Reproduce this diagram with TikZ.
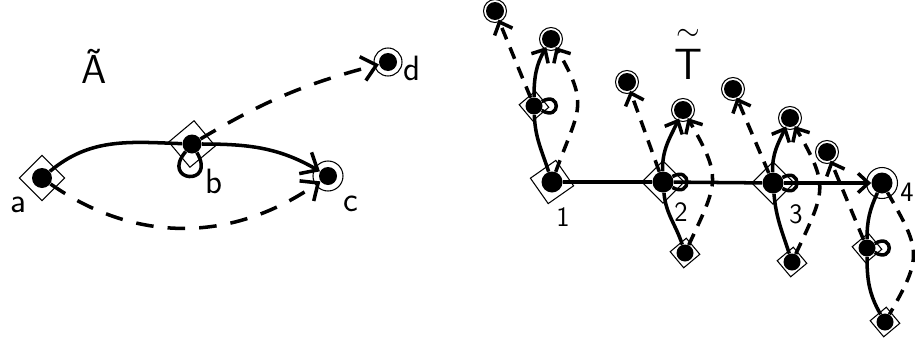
\documentclass[tikz,border=0pt]{standalone}
\usepackage{amsmath}
\usetikzlibrary{arrows.meta}

\begin{document}
\begin{tikzpicture}[
  vert/.style={circle, fill=black, inner sep=0pt, minimum size=#1},
  vert/.default=0.36cm,
  init/.style={draw, line width=0.6pt, rectangle, inner sep=0pt, minimum size=#1, rotate=40},
  init/.default=0.4cm,
  fin/.style={draw, line width=0.6pt, circle, inner sep=0pt, minimum size=#1},
  fin/.default=0.46cm,
  tr/.style={line width=2pt},
  pend/.style={tr, dash pattern=on 7pt off 5pt},
  arr/.style={-{Straight Barb[length=6pt,width=11pt]}},
  lbl/.style={font=\sffamily\fontsize{20}{20}\selectfont, inner sep=0pt},
  num/.style={font=\sffamily\fontsize{16}{16}\selectfont, inner sep=0pt},
  ttl/.style={font=\sffamily\fontsize{23}{23}\selectfont, inner sep=0pt},
]
  \useasboundingbox (0,0) rectangle (18.3,-6.78);

  % automaton A~
  \node[ttl] (atil) at (1.88,-1.32) {Ã};
  \node[vert=0.4cm] (a) at (0.84,-3.56) {};
  \node[vert=0.38cm] (b) at (3.84,-2.88) {};
  \node[vert] (c) at (6.56,-3.52) {};
  \node[vert] (d) at (7.76,-1.24) {};
  \node[init=0.64cm, rotate=5] at (a) {};
  \node[init=0.66cm] at (b) {};
  \node[fin=0.6cm] at (c) {};
  \node[fin=0.56cm] at (d) {};
  \node[lbl] (la) at (0.36,-4.1) {a};
  \node[lbl] (lb) at (4.28,-3.62) {b};
  \node[lbl] (lc) at (7.02,-4.08) {c};
  \node[lbl] (ld) at (8.24,-1.36) {d};

  \begin{scope}[pend/.append style={dash pattern=on 10pt off 8pt},
                arr/.append style={-{Straight Barb[length=8pt,width=14pt]}}]
    \draw[tr] (a) to[out=40,in=178] (b);
    \draw[tr, arr] (b) to[out=0,in=150] (c);
    \draw[tr] (b.230) .. controls +(230:0.8) and +(300:0.8) .. (b.300);
    \draw[pend, arr] (a) to[out=-35,in=-145] (c);
    \draw[pend, arr] (b) to[bend left=8] (d);
  \end{scope}

  % tree T~
  \node[ttl] (ttil) at (13.76,-1.04) {$\overset{\sim}{\mathsf{T}}$};
  % spine
  \node[vert=0.42cm] (t1) at (11.04,-3.64) {};
  \node[vert=0.42cm] (t2) at (13.26,-3.64) {};
  \node[vert=0.42cm] (t3) at (15.46,-3.66) {};
  \node[vert=0.42cm] (t4) at (17.64,-3.66) {};
  \node[init=0.62cm, rotate=-5] at (t1) {};
  \node[init=0.6cm, rotate=5] at (t2) {};
  \node[init=0.6cm, rotate=5] at (t3) {};
  \node[fin=0.62cm] at (t4) {};
  \node[num] (l1) at (11.26,-4.34) {1};
  \node[num] (l2) at (13.62,-4.24) {2};
  \node[num] (l3) at (15.92,-4.28) {3};
  \node[num, anchor=west] (l4) at (18.0,-3.84) {4};
  % branches
  \node[vert=0.34cm] (m1) at (10.68,-2.12) {};
  \node[vert] (c1) at (11.02,-0.78) {};
  \node[vert] (d1) at (9.9,-0.22) {};
  \node[vert=0.34cm] (b2) at (13.7,-5.06) {};
  \node[vert] (c2) at (13.66,-2.2) {};
  \node[vert] (d2) at (12.54,-1.64) {};
  \node[vert=0.34cm] (b3) at (15.84,-5.24) {};
  \node[vert] (c3) at (15.8,-2.36) {};
  \node[vert] (d3) at (14.66,-1.78) {};
  \node[vert=0.34cm] (m4) at (17.34,-4.96) {};
  \node[vert=0.34cm] (b4) at (17.7,-6.44) {};
  \node[vert] (d4) at (16.54,-3.04) {};
  \foreach \n in {m1,b2,b3,m4,b4} \node[init=0.42cm] at (\n) {};
  \foreach \n in {c1,d1,c2,d2,c3,d3,d4} \node[fin] at (\n) {};

  \draw[tr] (t1) -- (t2) -- (t3);
  \draw[tr, arr] (t3) -- (t4);

  \draw[tr] (t1) to[out=108,in=-88] (m1);
  \draw[tr, arr] (m1) to[out=90,in=-120] (c1);
  \draw[pend, arr] (m1) -- (d1);
  \draw[pend, arr] (t1) to[out=70,in=-60,looseness=1.4] (c1);
  \draw[tr] (m1.30) .. controls +(30:0.45) and +(-30:0.45) .. (m1.-30);

  \draw[tr] (b2) to[out=108,in=-85] (t2);
  \draw[tr, arr] (t2) to[out=92,in=-115] (c2);
  \draw[pend, arr] (t2) -- (d2);
  \draw[pend, arr] (b2) to[out=65,in=-60,looseness=1.4] (c2);
  \draw[tr] (t2.30) .. controls +(30:0.45) and +(-30:0.45) .. (t2.-30);

  \draw[tr] (b3) to[out=108,in=-85] (t3);
  \draw[tr, arr] (t3) to[out=92,in=-115] (c3);
  \draw[pend, arr] (t3) -- (d3);
  \draw[pend, arr] (b3) to[out=65,in=-60,looseness=1.4] (c3);
  \draw[tr] (t3.30) .. controls +(30:0.45) and +(-30:0.45) .. (t3.-30);

  \draw[tr] (t4) to[out=-115,in=90] (m4);
  \draw[tr] (m4) to[out=-90,in=120] (b4);
  \draw[pend] (t4) to[out=-60,in=60,looseness=1.4] (b4);
  \draw[pend, arr] (m4) -- (d4);
  \draw[tr] (m4.30) .. controls +(30:0.45) and +(-30:0.45) .. (m4.-30);
\end{tikzpicture}
\end{document}
